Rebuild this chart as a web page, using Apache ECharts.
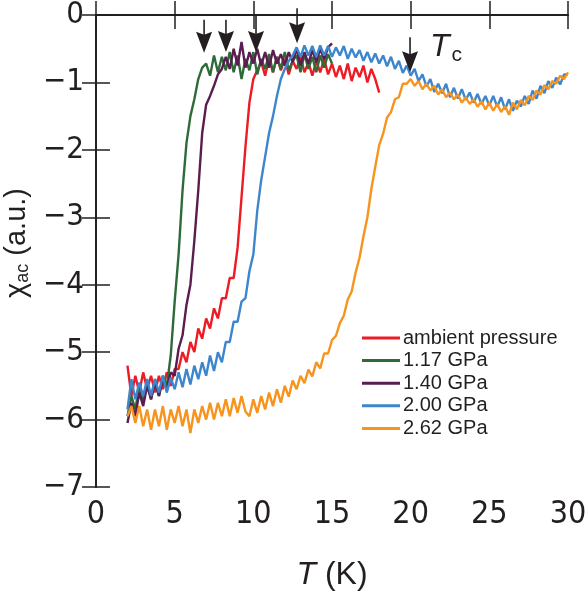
<!DOCTYPE html>
<html>
<head>
<meta charset="utf-8">
<title>chi_ac vs T</title>
<script src="https://cdn.jsdelivr.net/npm/echarts@6/dist/echarts.min.js"></script>
<style>
  html, body { margin: 0; padding: 0; background: #fff; }
  #main { width: 586px; height: 592px; }
</style>
</head>
<body>
<div id="main"></div>
<script>
// temperature grid (K), shared by all curves
var tGrid = [
  2.0, 2.25, 2.5, 2.75, 3.0, 3.25, 3.5, 3.75, 4.0, 4.25, 4.5, 4.75,
  5.0, 5.25, 5.5, 5.75, 6.0, 6.25, 6.5, 6.75, 7.0, 7.25, 7.5, 7.75,
  8.0, 8.25, 8.5, 8.75, 9.0, 9.25, 9.5, 9.75, 10.0, 10.25, 10.5, 10.75,
  11.0, 11.25, 11.5, 11.75, 12.0, 12.25, 12.5, 12.75, 13.0, 13.25, 13.5, 13.75,
  14.0, 14.25, 14.5, 14.75, 15.0, 15.25, 15.5, 15.75, 16.0, 16.25, 16.5, 16.75,
  17.0, 17.25, 17.5, 17.75, 18.0, 18.25, 18.5, 18.75, 19.0, 19.25, 19.5, 19.75,
  20.0, 20.25, 20.5, 20.75, 21.0, 21.25, 21.5, 21.75, 22.0, 22.25, 22.5, 22.75,
  23.0, 23.25, 23.5, 23.75, 24.0, 24.25, 24.5, 24.75, 25.0, 25.25, 25.5, 25.75,
  26.0, 26.25, 26.5, 26.75, 27.0, 27.25, 27.5, 27.75, 28.0, 28.25, 28.5, 28.75,
  29.0, 29.25, 29.5, 29.75, 30.0
];

// chi_ac (a.u.), starting at tGrid[0]
var ambient = [
  -5.2, -5.65, -5.35, -5.6, -5.3, -5.55, -5.35, -5.6, -5.35, -5.55, -5.3, -5.5,
  -5.25, -5.25, -5.0, -5.15, -4.85, -5.0, -4.65, -4.8, -4.5, -4.65, -4.35, -4.5,
  -4.2, -4.2, -3.9, -3.9, -3.45, -2.7, -1.95, -1.3, -0.95, -0.82, -0.7, -0.9,
  -0.65, -0.85, -0.62, -0.82, -0.65, -0.88, -0.68, -0.8, -0.62, -0.85, -0.7, -0.9,
  -0.68, -0.85, -0.65, -0.88, -0.72, -0.92, -0.75, -0.95, -0.72, -0.98, -0.78, -0.92,
  -0.75, -1.0, -0.8, -0.95, -1.15
];
var p117 = [
  -5.95, -5.65, -5.85, -5.5, -5.75, -5.45, -5.7, -5.4, -5.65, -5.35, -5.5, -5.05,
  -4.25, -3.55, -2.6, -1.9, -1.5, -1.25, -0.95, -0.78, -0.72, -0.9, -0.6, -0.85,
  -0.62, -0.82, -0.55, -0.85, -0.6, -0.95, -0.65, -0.82, -0.55, -0.88, -0.65, -0.8,
  -0.58, -0.85, -0.62, -0.8, -0.55, -0.82, -0.68, -0.6, -0.85, -0.58, -0.8, -0.62,
  -0.85, -0.6, -0.78, -0.58, -0.72
];
var p140 = [
  -6.05, -5.75, -5.95, -5.6, -5.8, -5.5, -5.7, -5.45, -5.65, -5.4, -5.55, -5.3,
  -5.35, -4.95, -4.75, -4.3, -4.0, -3.35, -2.6, -1.75, -1.33, -1.2, -1.05, -0.88,
  -0.8, -0.62, -0.8, -0.5, -0.75, -0.4, -0.78, -0.55, -0.72, -0.5, -0.75, -0.55,
  -0.78, -0.52, -0.72, -0.58, -0.75, -0.55, -0.7, -0.5, -0.75, -0.55, -0.72, -0.52,
  -0.7, -0.5, -0.66, -0.48, -0.42
];
var p200 = [
  -5.85, -5.4, -5.7, -5.45, -5.65, -5.4, -5.65, -5.4, -5.6, -5.35, -5.6, -5.38,
  -5.55, -5.3, -5.52, -5.25, -5.48, -5.2, -5.4, -5.15, -5.35, -5.05, -5.28, -5.0,
  -5.15, -4.85, -4.85, -4.55, -4.55, -4.25, -4.2, -3.8, -3.55, -2.9, -2.45, -2.1,
  -1.75, -1.5, -1.2, -0.95, -0.8, -0.68, -0.6, -0.48, -0.62, -0.45, -0.6, -0.46,
  -0.62, -0.45, -0.6, -0.46, -0.62, -0.48, -0.6, -0.46, -0.65, -0.5, -0.63, -0.52,
  -0.68, -0.55, -0.7, -0.57, -0.72, -0.6, -0.76, -0.62, -0.8, -0.68, -0.86, -0.75,
  -0.9, -0.8, -0.98, -0.88, -1.06, -0.95, -1.14, -1.02, -1.16, -1.02, -1.22, -1.08,
  -1.24, -1.1, -1.26, -1.15, -1.3, -1.17, -1.32, -1.2, -1.34, -1.2, -1.36, -1.22,
  -1.4, -1.25, -1.42, -1.27, -1.36, -1.2, -1.32, -1.12, -1.24, -1.05, -1.16, -0.98,
  -1.08, -0.93, -1.03, -0.88, -0.88
];
var p262 = [
  -5.95, -5.8, -6.05, -5.8, -6.1, -5.85, -6.15, -5.85, -6.1, -5.8, -6.15, -5.85,
  -6.05, -5.8, -6.1, -5.85, -6.2, -5.85, -6.05, -5.8, -6.0, -5.75, -6.0, -5.75,
  -5.95, -5.7, -5.95, -5.68, -5.9, -5.65, -5.88, -5.95, -5.7, -5.9, -5.65, -5.85,
  -5.6, -5.8, -5.55, -5.75, -5.5, -5.66, -5.42, -5.55, -5.35, -5.46, -5.26, -5.36,
  -5.15, -5.24, -5.02, -5.02, -4.82, -4.76, -4.57, -4.46, -4.22, -4.1, -3.82, -3.6,
  -3.28, -3.0, -2.58, -2.25, -1.93, -1.76, -1.52, -1.44, -1.25, -1.22, -1.02, -1.02,
  -0.95, -1.05, -0.98, -1.1, -1.02, -1.12, -1.05, -1.18, -1.1, -1.22, -1.15, -1.25,
  -1.18, -1.3, -1.22, -1.32, -1.25, -1.36, -1.28, -1.4, -1.3, -1.42, -1.32, -1.44,
  -1.35, -1.48, -1.3, -1.4, -1.26, -1.34, -1.2, -1.26, -1.12, -1.18, -1.04, -1.1,
  -0.98, -1.02, -0.9, -0.95, -0.85
];

// Tc arrows: [T, y of tail, y of tip]
var tcArrows = [
  [6.87, -0.07, -0.56],
  [8.26, -0.07, -0.55],
  [10.17, 0.0, -0.55],
  [12.78, 0.1, -0.42],
  [19.96, -0.33, -0.85]
];

var xTicks = [0, 5, 10, 15, 20, 25, 30];

function pairs(vals) {
  var out = [];
  for (var i = 0; i < vals.length; i++) out.push([tGrid[i], vals[i]]);
  return out;
}

var ink = '#231f20';
var numFont = '"Liberation Sans Narrow", "DejaVu Sans Condensed", "Liberation Sans", sans-serif';
var txtFont = '"Liberation Sans", Arial, sans-serif';

var curves = [
  { name: 'ambient pressure', data: ambient, color: '#ed1c24' },
  { name: '1.17 GPa', data: p117, color: '#2e6b39' },
  { name: '1.40 GPa', data: p140, color: '#5a1d50' },
  { name: '2.00 GPa', data: p200, color: '#3d86cd' },
  { name: '2.62 GPa', data: p262, color: '#f7941d' }
];

var series = curves.map(function (c) {
  return {
    name: c.name,
    type: 'line',
    data: pairs(c.data),
    symbol: 'none',
    color: c.color,
    lineStyle: { width: 2.4, color: c.color },
    z: 2
  };
});

series.push({
  type: 'custom',
  name: 'Tc',
  data: tcArrows,
  clip: false,
  z: 5,
  renderItem: function (params, api) {
    var p0 = api.coord([api.value(0), api.value(1)]);
    var p1 = api.coord([api.value(0), api.value(2)]);
    var x = p1[0], y = p1[1];
    return {
      type: 'group',
      children: [
        { type: 'line', shape: { x1: p0[0], y1: p0[1], x2: x, y2: y - 16 },
          style: { stroke: ink, lineWidth: 1.6 } },
        { type: 'polygon', shape: { points: [[x - 8, y - 21], [x, y - 18], [x + 8, y - 21], [x, y]] },
          style: { fill: ink } }
      ]
    };
  }
});

var tickStyle = { inside: true, length: 14, lineStyle: { color: ink, width: 1.5 } };

var chart = echarts.init(document.getElementById('main'));
chart.setOption({
  animation: false,
  backgroundColor: '#fff',
  grid: { left: 96, right: 18, top: 15, bottom: 105, outerBoundsMode: 'none' },
  legend: {
    data: curves.map(function (c) { return c.name; }),
    orient: 'vertical',
    left: 357,
    top: 323,
    icon: 'rect',
    itemWidth: 38,
    itemHeight: 3,
    itemGap: 2.6,
    textStyle: { fontFamily: txtFont, fontSize: 20, lineHeight: 20, color: ink, padding: [0, 0, 0, -2] }
  },
  xAxis: [{
    type: 'value', min: 0, max: 30, interval: 5,
    name: '{i|T} (K)', nameLocation: 'middle', nameGap: 72,
    nameTextStyle: { fontFamily: txtFont, fontSize: 32, color: ink,
      rich: { i: { fontStyle: 'italic', fontFamily: txtFont, fontSize: 32, color: ink } } },
    axisLine: { lineStyle: { color: ink, width: 1.8 } },
    axisTick: tickStyle,
    axisLabel: { fontFamily: numFont, fontSize: 32, color: ink, margin: 12,
      alignMinLabel: 'center', alignMaxLabel: 'center',
      customValues: xTicks },
    splitLine: { show: false }
  }, {
    type: 'value', min: 0, max: 30, interval: 5, position: 'top',
    axisLine: { lineStyle: { color: ink, width: 1.8 } },
    axisTick: tickStyle,
    axisLabel: { show: false },
    splitLine: { show: false }
  }],
  yAxis: [{
    type: 'value', min: -7, max: 0, interval: 1,
    name: '{c|χ}{s|ac} (a.u.)', nameLocation: 'middle', nameGap: 62, nameRotate: 90,
    nameTextStyle: { fontFamily: txtFont, fontSize: 29, color: ink, padding: [0, 0, 0, 16],
      rich: {
        c: { fontFamily: txtFont, fontSize: 29, color: ink },
        s: { fontFamily: txtFont, fontSize: 18, color: ink, padding: [12, 0, 0, 0] }
      } },
    axisLine: { lineStyle: { color: ink, width: 1.8 } },
    axisTick: tickStyle,
    axisLabel: { fontFamily: numFont, fontSize: 31, color: ink, margin: 12,
      formatter: function (v) { return v < 0 ? '\u2212' + (-v) : String(v); } },
    splitLine: { show: false }
  }, {
    type: 'value', min: -7, max: 0, interval: 1, position: 'right',
    axisLine: { lineStyle: { color: ink, width: 1.8 } },
    axisTick: tickStyle,
    axisLabel: { show: false },
    splitLine: { show: false }
  }],
  graphic: [{
    type: 'text', left: 430, top: 31,
    style: {
      text: '{t|T}{c|c}',
      rich: {
        t: { fontFamily: txtFont, fontStyle: 'italic', fontSize: 32, fill: ink },
        c: { fontFamily: txtFont, fontSize: 21, fill: ink, padding: [16, 0, 0, 2] }
      }
    }
  }],
  series: series
});
</script>
</body>
</html>
